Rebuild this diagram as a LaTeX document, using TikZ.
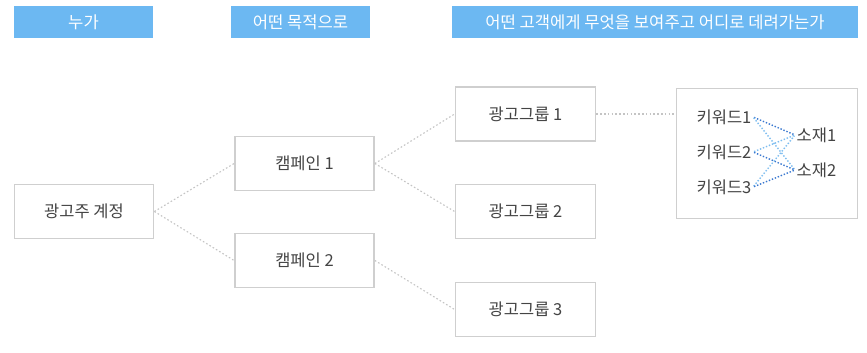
\documentclass[tikz,border=0pt]{standalone}
\usepackage{fontspec}
\setmainfont{Noto Sans CJK KR}
\definecolor{hdr}{HTML}{6CB8F2}
\definecolor{bx}{HTML}{CFCFCF}
\definecolor{txt}{HTML}{444444}
\definecolor{dln}{HTML}{C4C4C4}
\definecolor{kdark}{HTML}{3A78D0}
\definecolor{klight}{HTML}{7DBDF0}
\tikzset{
  header/.style={fill=hdr, draw=none, text=white, font=\fontsize{16.6}{18}\selectfont},
  unitbox/.style={draw=bx, line width=1.8pt, fill=white, text=txt, font=\fontsize{16.5}{18}\selectfont},
  kwtext/.style={text=txt, font=\fontsize{16.5}{18}\selectfont, inner sep=1.5pt},
  link/.style={draw=dln, line width=1.1pt, dash pattern=on 1.6pt off 2.2pt},
  kdk/.style={draw=kdark, line width=1.4pt, dash pattern=on 1.4pt off 1.8pt, shorten <=1pt, shorten >=1pt},
  klt/.style={draw=klight, line width=1.4pt, dash pattern=on 1.4pt off 1.8pt, shorten <=1pt, shorten >=1pt},
}
\begin{document}
\begin{tikzpicture}[x=1pt,y=-1pt]
\useasboundingbox (0,0) rectangle (867,353);
% headers
\node[header, minimum width=139pt, minimum height=32pt] (h1) at (83.5,22) {누가};
\node[header, minimum width=139pt, minimum height=32pt] (h2) at (300.5,22) {어떤 목적으로};
\node[header, minimum width=406pt, minimum height=32pt] (h3) at (655,22) {어떤 고객에게 무엇을 보여주고 어디로 데려가는가};
% boxes
\node[unitbox, minimum width=139pt, minimum height=54pt] (acc) at (84,211.5) {광고주 계정};
\node[unitbox, minimum width=139pt, minimum height=54pt] (c1) at (304.5,163.5) {캠페인 1};
\node[unitbox, minimum width=139pt, minimum height=54pt] (c2) at (304.5,260.5) {캠페인 2};
\node[unitbox, minimum width=140pt, minimum height=54pt] (g1) at (525.5,114) {광고그룹 1};
\node[unitbox, minimum width=140pt, minimum height=54pt] (g2) at (525.5,211.5) {광고그룹 2};
\node[unitbox, minimum width=140pt, minimum height=54pt] (g3) at (525.5,309.5) {광고그룹 3};
\node[unitbox, minimum width=181pt, minimum height=130pt] (kb) at (767,153.5) {};
% keywords and materials
\node[kwtext, anchor=west] (k1) at (695,117) {키워드1};
\node[kwtext, anchor=west] (k2) at (695,152) {키워드2};
\node[kwtext, anchor=west] (k3) at (695,187) {키워드3};
\node[kwtext, anchor=west] (m1) at (795,135) {소재1};
\node[kwtext, anchor=west] (m2) at (795,170) {소재2};
% connectors
\draw[link] (acc.east) -- (c1.west);
\draw[link] (acc.east) -- (c2.west);
\draw[link] (c1.east) -- (g1.west);
\draw[link] (c1.east) -- (g2.west);
\draw[link] (c2.east) -- (g3.west);
\draw[link] (g1.east) -- (g1.east -| kb.west);
\draw[kdk] (k1.east) -- (m1.west);
\draw[klt] (k1.east) -- (m2.west);
\draw[klt] (k2.east) -- (m1.west);
\draw[kdk] (k2.east) -- (m2.west);
\draw[klt] (k3.east) -- (m1.west);
\draw[kdk] (k3.east) -- (m2.west);
\end{tikzpicture}
\end{document}
